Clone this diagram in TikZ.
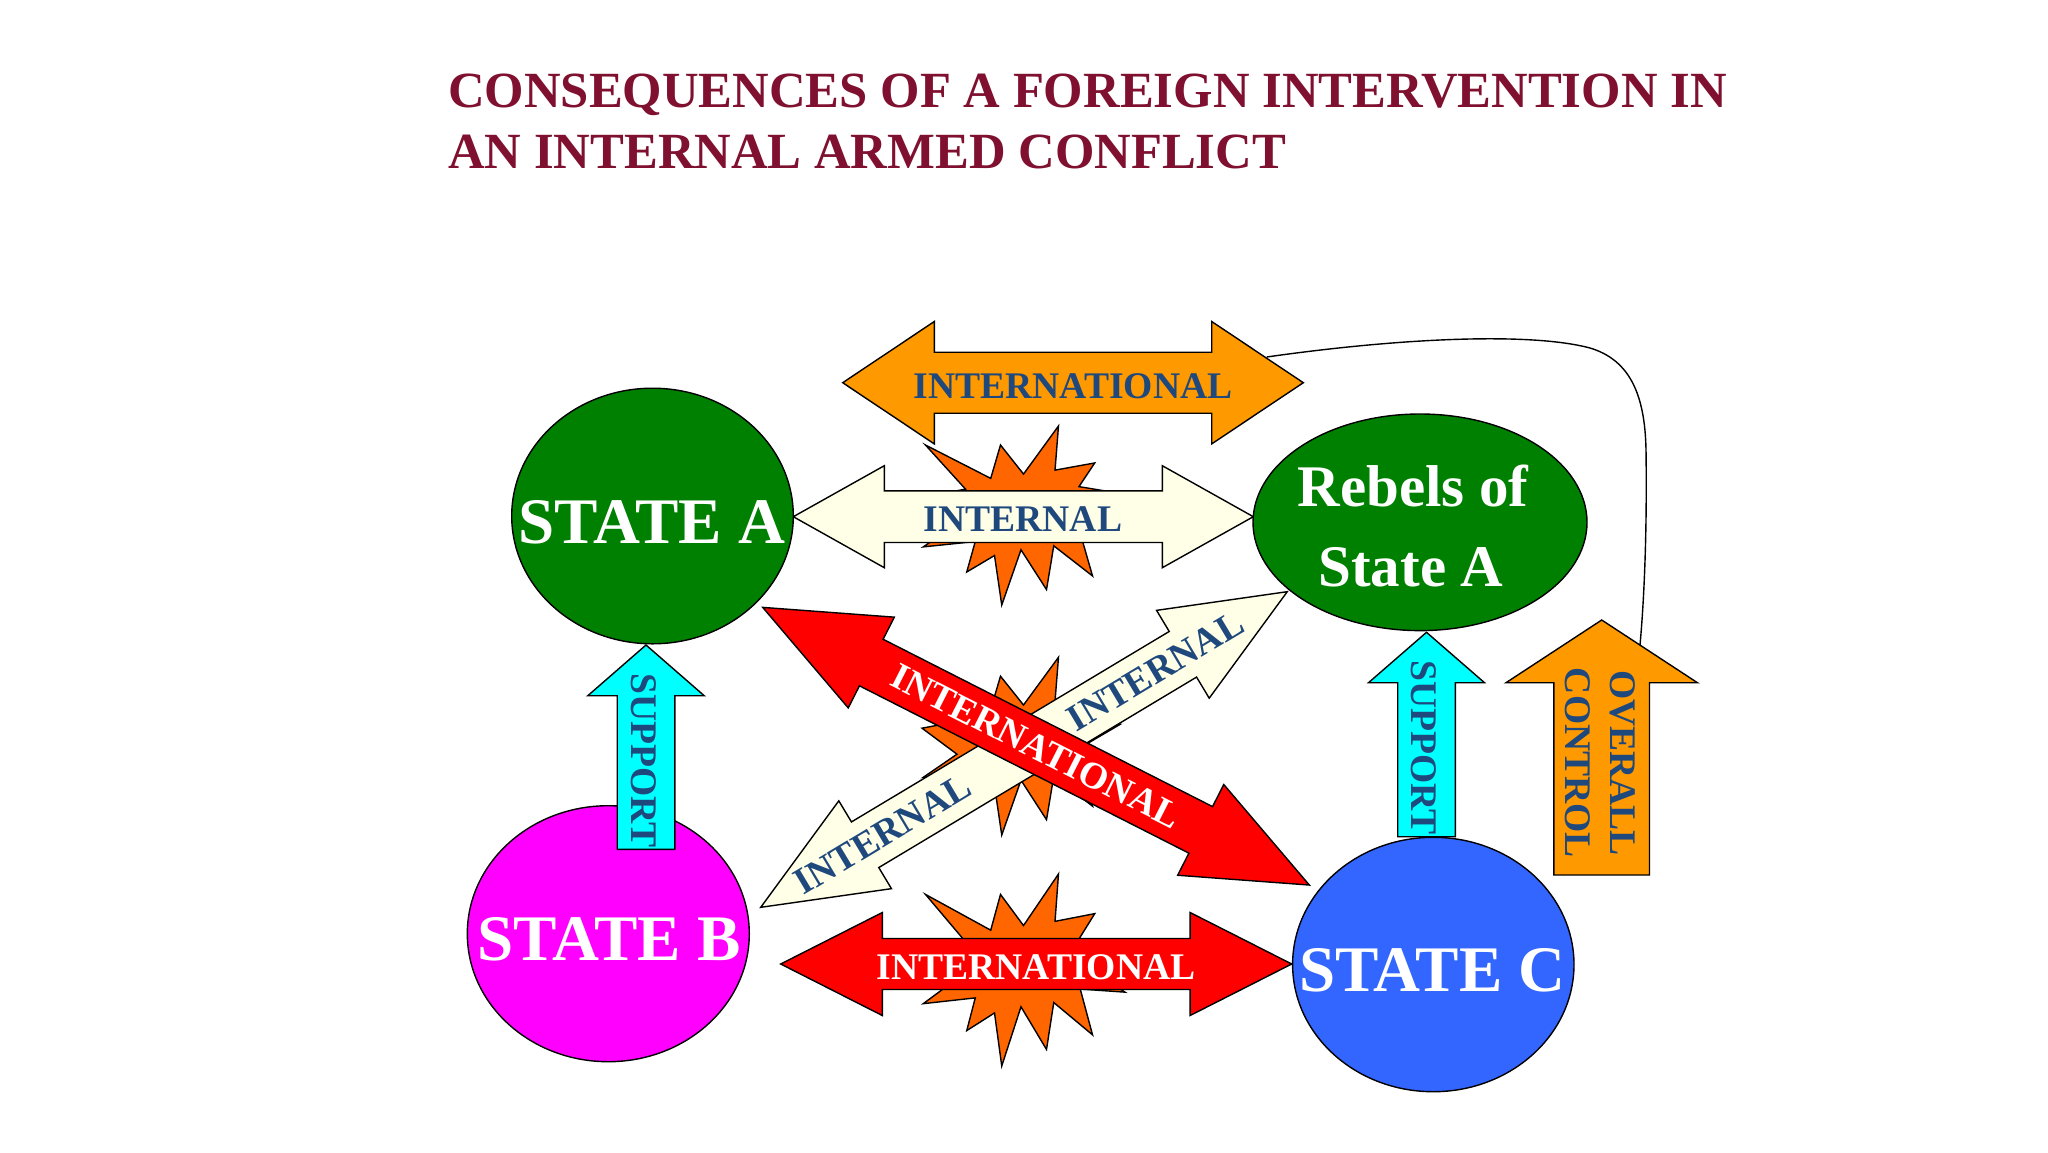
\documentclass[tikz,border=0pt]{standalone}
\usepackage{fontspec}
\setmainfont{Liberation Serif}
\usetikzlibrary{shapes.geometric}
\definecolor{titlered}{RGB}{128,16,48}
\definecolor{txtblue}{RGB}{31,73,125}
\definecolor{stgreen}{RGB}{0,128,0}
\definecolor{stmag}{RGB}{255,0,255}
\definecolor{stblue}{RGB}{51,102,255}
\definecolor{arrorange}{RGB}{255,153,0}
\definecolor{burst}{RGB}{255,102,0}
\definecolor{cream}{RGB}{255,255,232}
\definecolor{arrred}{RGB}{255,0,0}
\definecolor{supcyan}{RGB}{0,255,255}
% double-headed block arrow centred at origin along x: style, L, head length, head half width, shaft half width
\newcommand{\DblArrow}[5]{\path[#1] ({-#2/2},0) -- ({-#2/2+#3},{-#4}) -- ({-#2/2+#3},{-#5}) -- ({#2/2-#3},{-#5}) -- ({#2/2-#3},{-#4}) -- ({#2/2},0) -- ({#2/2-#3},{#4}) -- ({#2/2-#3},{#5}) -- ({-#2/2+#3},{#5}) -- ({-#2/2+#3},{#4}) -- cycle;}
% upward block arrow, tip at origin: style, L, head length, head half width, shaft half width
\newcommand{\UpArrow}[5]{\path[#1] (0,0) -- (#4,#3) -- (#5,#3) -- (#5,#2) -- ({-#5},#2) -- ({-#5},#3) -- ({-#4},#3) -- cycle;}
% explosion shape on a 216 x 216 grid
\newcommand{\Burst}[1]{\path[#1] (108,58) -- (145.22,0) -- (141.55,53.25) -- (183.80,44.57) -- (167.02,73.15) -- (210.97,81.37) -- (176.07,104.75) -- (216,132.90) -- (168.37,129.42) -- (181.45,180.95) -- (140.20,144.57) -- (132.47,197.37) -- (105.32,149.35) -- (84.85,216) -- (77.15,156.27) -- (47.62,176.17) -- (56.67,139.37) -- (1.35,145.87) -- (37.22,117.75) -- (0,86.15) -- (46.27,76.17) -- (3.70,22.95) -- (73.12,63.20) -- (83.52,22.95) -- cycle;}
\tikzset{
  outl/.style={draw=black, line width=1.4pt, line join=miter},
  ell/.style={ellipse, draw=black, line width=1.4pt, inner sep=0pt, outer sep=0pt},
  lbl/.style={inner sep=0pt, text=txtblue, font=\bfseries\fontsize{37.6}{45.3}\selectfont},
  biglbl/.style={inner sep=0pt, text=white, font=\bfseries\fontsize{65}{78}\selectfont},
  rebel/.style={inner sep=0pt, text=white, font=\bfseries\fontsize{59}{80}\selectfont},
  titletxt/.style={inner sep=0pt, text=titlered, font=\bfseries\fontsize{50.7}{61}\selectfont},
}
\begin{document}
\begin{tikzpicture}[x=1pt,y=-1pt]
\useasboundingbox (0,0) rectangle (2048,1152);
\fill[white] (0,0) rectangle (2048,1152);

% title
\node[titletxt, anchor=base west] (title1) at (448,107) {CONSEQUENCES OF A FOREIGN INTERVENTION IN};
\node[titletxt, anchor=base west] (title2) at (448,168) {AN INTERNAL ARMED CONFLICT};

% top orange INTERNATIONAL arrow
\begin{scope}[shift={(1073,382.7)}]
  \DblArrow{outl, fill=arrorange}{460.6}{91.6}{61.2}{30.5}
\end{scope}
\node[lbl, anchor=base] (intlTop) at (1073,398.3) {INTERNATIONAL};

% top burst + horizontal INTERNAL arrow
\begin{scope}[shift={(922,426)}, xscale=0.9398, yscale=0.8287]
  \Burst{outl, fill=burst}
\end{scope}
\begin{scope}[shift={(1023.3,516.7)}]
  \DblArrow{outl, fill=cream}{460}{91}{51}{25.8}
\end{scope}
\node[lbl, anchor=base] (intTop) at (1023,531.7) {INTERNAL};

% top ellipses
\node[ell, fill=stgreen, minimum width=281.6pt, minimum height=255.6pt] (stateA) at (652.5,516) {};
\node[biglbl, anchor=base] (lblA) at (652,543.3) {STATE A};
\node[ell, fill=stgreen, minimum width=334pt, minimum height=216.6pt] (rebels) at (1420,522.3) {};
\node[rebel, anchor=base] (lblR1) at (1413,506.7) {Rebels of};
\node[rebel, anchor=base] (lblR2) at (1411,586.4) {State A};

% middle burst + diagonal arrows
\begin{scope}[shift={(922,657.3)}, xscale=0.9398, yscale=0.8227]
  \Burst{outl, fill=burst}
\end{scope}
\begin{scope}[shift={(1024,749.5)}, rotate=30.94]
  \DblArrow{outl, fill=cream}{613.9}{121.7}{51.2}{26.6}
\end{scope}
\node[lbl, rotate=30.94] (intDiagA) at (882.5,834.3) {INTERNAL};
\node[lbl, rotate=30.94] (intDiagB) at (1155.3,670.8) {INTERNAL};
\begin{scope}[shift={(1036,746.2)}, rotate=-26.93]
  \DblArrow{outl, fill=arrred}{613.1}{121.8}{50.9}{26.1}
\end{scope}
\node[lbl, text=white, rotate=-26.93] (intlDiag) at (1036,746.2) {INTERNATIONAL};

% bottom burst + bottom red arrow
\begin{scope}[shift={(922,874)}, xscale=0.9398, yscale=0.8889]
  \Burst{outl, fill=burst}
\end{scope}
\begin{scope}[shift={(1036.2,964)}]
  \DblArrow{outl, fill=arrred}{511}{101.6}{51.5}{25.5}
\end{scope}
\node[lbl, text=white, anchor=base] (intlBot) at (1036,979.3) {INTERNATIONAL};

% bottom ellipses
\node[ell, fill=stmag, minimum width=282pt, minimum height=256pt] (stateB) at (608.3,933.7) {};
\node[biglbl, anchor=base] (lblB) at (609,960.7) {STATE B};
\node[ell, fill=stblue, minimum width=281.4pt, minimum height=254.4pt] (stateC) at (1433.3,964.5) {};
\node[biglbl, anchor=base] (lblC) at (1432.5,991.7) {STATE C};

% support arrows
\begin{scope}[shift={(646,645)}]
  \UpArrow{outl, fill=supcyan}{204.3}{50.7}{58.2}{28.8}
\end{scope}
\node[lbl, rotate=-90] (supA) at (644,760.7) {SUPPORT};
\begin{scope}[shift={(1426.5,632.3)}]
  \UpArrow{outl, fill=supcyan}{204.4}{50.4}{58}{28.8}
\end{scope}
\node[lbl, rotate=-90] (supC) at (1424,747.8) {SUPPORT};

% overall control arrow
\begin{scope}[shift={(1601.7,620)}]
  \UpArrow{outl, fill=arrorange}{255}{62.7}{95.7}{47.8}
\end{scope}
\node[lbl, rotate=-90, align=center] (ctrl) at (1600,763) {OVERALL\\CONTROL};

% connector curve
\coordinate (cs) at (1266.7,357);
\coordinate (ce) at (1640,645);
\draw[line width=1.4pt] (cs) .. controls (1400,338) and (1530,332) .. (1590,348) .. controls (1630,360) and (1645,395) .. (1646,450) .. controls (1647,520) and (1645,590) .. (ce);
\end{tikzpicture}
\end{document}
